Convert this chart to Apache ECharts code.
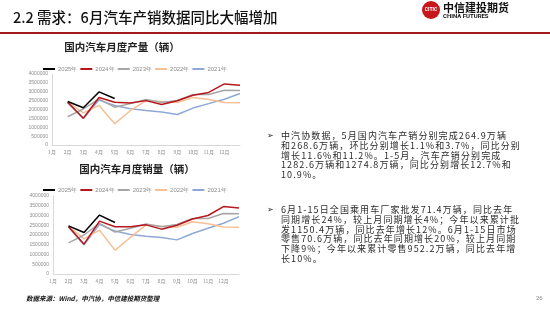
<!DOCTYPE html>
<html>
<head>
<meta charset="utf-8">
<script src="https://cdn.jsdelivr.net/npm/echarts@6/dist/echarts.min.js"></script>
<style>
  html, body { margin: 0; padding: 0; background: #fff; }
  #wrap { position: relative; width: 550px; height: 310px; }
  #main { width: 550px; height: 310px; }
  .para {
    position: absolute; left: 281px; width: 265px;
    font: 9px "Noto Sans CJK SC", sans-serif; color: #2b2b2b;
    letter-spacing: 1.1px; line-height: 9.75px; white-space: pre;
  }
  .bullet {
    position: absolute; left: 267px;
    font: 8px "DejaVu Sans", sans-serif; color: #222;
  }
</style>
</head>
<body>
<div id="wrap">
  <div id="main"></div>
  <div class="bullet" style="top:131px">➢</div>
  <div class="para" id="p1" style="top:131px"></div>
  <div class="bullet" style="top:205px">➢</div>
  <div class="para" id="p2" style="top:205px"></div>
</div>
<script>
// x categories: the data sits one slot to the right of the month labels, as in the original
var months = ['1月', '2月', '3月', '4月', '5月', '6月', '7月', '8月', '9月', '10月', '11月', '12月', ''];
var years = ['2025年', '2024年', '2023年', '2022年', '2021年'];
var yTicks = [0, 4000000, 500000]; // min, max, interval

// 产量
var prod2025 = [null, 2450000, 2100000, 2990000, 2620000];
var prod2024 = [null, 2410000, 1510000, 2680000, 2410000, 2370000, 2500000, 2280000, 2490000, 2800000, 2960000, 3440000, 3370000];
var prod2023 = [null, 1590000, 2030000, 2580000, 2130000, 2330000, 2560000, 2400000, 2510000, 2850000, 2850000, 3090000, 3070000];
var prod2022 = [null, 2420000, 1810000, 2230000, 1200000, 1930000, 2500000, 2450000, 2390000, 2670000, 2560000, 2390000, 2380000];
var prod2021 = [null, 2380000, 1500000, 2530000, 2230000, 2040000, 1940000, 1860000, 1720000, 2080000, 2330000, 2580000, 2900000];

// 销量
var sales2025 = [null, 2470000, 2130000, 3020000, 2640000];
var sales2024 = [null, 2440000, 1530000, 2710000, 2420000, 2420000, 2520000, 2300000, 2500000, 2820000, 3000000, 3460000, 3390000];
var sales2023 = [null, 1600000, 2000000, 2600000, 2150000, 2350000, 2560000, 2420000, 2540000, 2850000, 2850000, 3100000, 3090000];
var sales2022 = [null, 2440000, 1800000, 2250000, 1220000, 1880000, 2520000, 2450000, 2400000, 2680000, 2580000, 2410000, 2400000];
var sales2021 = [null, 2400000, 1500000, 2550000, 2200000, 2030000, 1940000, 1870000, 1750000, 2080000, 2350000, 2600000, 2940000];

var colors = {
  '2025年': '#000000',
  '2024年': '#b5171d',
  '2023年': '#a6a6a6',
  '2022年': '#f6bf94',
  '2021年': '#8ea9d6'
};

var para1 = '中汽协数据，5月国内汽车产销分别完成264.9万辆\n' +
  '和268.6万辆，环比分别增长1.1%和3.7%，同比分别\n' +
  '增长11.6%和11.2%。1-5月，汽车产销分别完成\n' +
  '1282.6万辆和1274.8万辆，同比分别增长12.7%和\n' +
  '10.9%。';
var para2 = '6月1-15日全国乘用车厂家批发71.4万辆，同比去年\n' +
  '同期增长24%，较上月同期增长4%；今年以来累计批\n' +
  '发1150.4万辆，同比去年增长12%。6月1-15日市场\n' +
  '零售70.6万辆，同比去年同期增长20%，较上月同期\n' +
  '下降9%；今年以来累计零售952.2万辆，同比去年增\n' +
  '长10%。';

document.getElementById('p1').textContent = para1;
document.getElementById('p2').textContent = para2;

var cjk = '"Noto Sans CJK SC", sans-serif';

function makeSeries(idx, list) {
  var out = [];
  // draw older years first so 2025 ends up on top
  for (var i = years.length - 1; i >= 0; i--) {
    out.push({
      name: years[i],
      type: 'line',
      xAxisIndex: idx,
      yAxisIndex: idx,
      symbol: 'none',
      data: list[i],
      lineStyle: { width: 1.5, color: colors[years[i]] },
      itemStyle: { color: colors[years[i]] }
    });
  }
  return out;
}

function makeX(idx) {
  return {
    type: 'category',
    gridIndex: idx,
    data: months,
    boundaryGap: false,
    axisLine: { lineStyle: { color: '#d9d9d9' } },
    axisTick: { show: false },
    axisLabel: { fontSize: 5, color: '#8c8c8c', margin: 5, fontFamily: cjk, interval: 0 },
    splitLine: { show: false }
  };
}

function makeY(idx) {
  return {
    type: 'value',
    gridIndex: idx,
    min: yTicks[0],
    max: yTicks[1],
    interval: yTicks[2],
    axisLine: { show: true, lineStyle: { color: '#d9d9d9' } },
    axisTick: { show: false },
    axisLabel: {
      fontSize: 5, color: '#8c8c8c', margin: 4,
      formatter: function (v) { return String(v); }
    },
    splitLine: { show: false }
  };
}

function makeLegend(top) {
  return {
    data: years,
    left: 38,
    top: top,
    icon: 'rect',
    itemWidth: 12,
    itemHeight: 2,
    itemGap: 3,
    textStyle: { fontSize: 6, color: '#8c8c8c', padding: [0, 0, 0, -2] }
  };
}

var chart = echarts.init(document.getElementById('main'), null, { renderer: 'canvas' });

var option = {
  animation: false,
  grid: [
    { left: 52, right: 310, top: 74, bottom: 165 },
    { left: 53, right: 311, top: 196, bottom: 36 }
  ],
  xAxis: [makeX(0), makeX(1)],
  yAxis: [makeY(0), makeY(1)],
  legend: [makeLegend(61), makeLegend(182)],
  series: makeSeries(0, [prod2025, prod2024, prod2023, prod2022, prod2021])
    .concat(makeSeries(1, [sales2025, sales2024, sales2023, sales2022, sales2021])),
  graphic: [
    // header
    {
      type: 'text', left: 13, top: 10,
      style: { text: '2.2 需求：6月汽车产销数据同比大幅增加', font: '500 14.5px ' + cjk, fill: '#111' }
    },
    {
      type: 'rect', shape: { x: 0, y: 32, width: 550, height: 2 },
      style: { fill: '#a31a1f' }
    },
    // logo
    {
      type: 'circle', shape: { cx: 431, cy: 10, r: 9 },
      style: { fill: '#c8161d' }
    },
    {
      type: 'text', x: 431, y: 10,
      style: { text: 'CITIC', font: 'bold 5px Roboto', fill: '#fff', align: 'center', verticalAlign: 'middle' }
    },
    {
      type: 'text', left: 443, top: 2,
      style: { text: '中信建投期货', font: 'bold 11px ' + cjk, fill: '#111' }
    },
    {
      type: 'text', left: 443, top: 13,
      style: { text: 'CHINA FUTURES', font: 'bold 6px Roboto', fill: '#111' }
    },
    // chart titles
    {
      type: 'text', x: 122, y: 47,
      style: { text: '国内汽车月度产量（辆）', font: 'bold 10.5px ' + cjk, fill: '#222', align: 'center', verticalAlign: 'middle' }
    },
    {
      type: 'text', x: 137, y: 169,
      style: { text: '国内汽车月度销量（辆）', font: 'bold 10.5px ' + cjk, fill: '#222', align: 'center', verticalAlign: 'middle' }
    },
    // footer
    {
      type: 'text', left: 26, top: 295,
      style: { text: '数据来源：Wind，中汽协，中信建投期货整理', font: 'italic bold 6.5px ' + cjk, fill: '#111' }
    },
    {
      type: 'text', left: 536, top: 295,
      style: { text: '26', font: '6px Roboto', fill: '#888' }
    }
  ]
};

chart.setOption(option);
</script>
</body>
</html>
